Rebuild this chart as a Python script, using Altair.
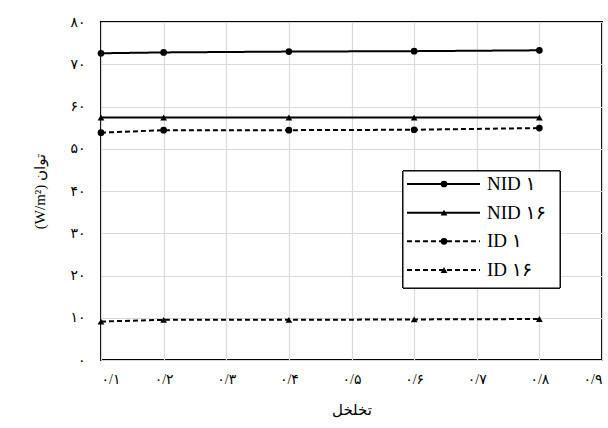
import altair as alt
import pandas as pd

# ---- data ----
porosity = [0.1, 0.2, 0.4, 0.6, 0.8]
series_names = ["NID ۱", "NID ۱۶", "ID ۱", "ID ۱۶"]
nid_1 = [72.6, 72.8, 73.0, 73.1, 73.3]
nid_16 = [57.4, 57.4, 57.4, 57.4, 57.4]
id_1 = [53.8, 54.4, 54.4, 54.5, 54.9]
id_16 = [9.1, 9.5, 9.5, 9.6, 9.7]
x_ticks = [0.1, 0.2, 0.3, 0.4, 0.5, 0.6, 0.7, 0.8, 0.9]
y_ticks = [0, 10, 20, 30, 40, 50, 60, 70, 80]

dash_range = [[1, 0], [1, 0], [5, 3], [5, 3]]
shape_range = ["circle", "triangle-up", "circle", "triangle-up"]

rows = []
for name, vals in zip(series_names, [nid_1, nid_16, id_1, id_16]):
    for x, y in zip(porosity, vals):
        rows.append({"series": name, "x": x, "y": y})
df = pd.DataFrame(rows)

legend_df = pd.DataFrame({"series": series_names, "row": list(range(len(series_names)))})

PD = "۰۱۲۳۴۵۶۷۸۹"


def persian(expr):
    expr = f"replace({expr}, '.', '/')"
    for d in range(10):
        expr = f"replace({expr}, regexp('{d}', 'g'), '{PD[d]}')"
    return expr


FONT = "Liberation Serif, DejaVu Serif, DejaVu Sans"

dash_scale = alt.Scale(domain=series_names, range=dash_range)
shape_scale = alt.Scale(domain=series_names, range=shape_range)

x_enc = alt.X(
    "x:Q",
    scale=alt.Scale(domain=[0.1, 0.9], nice=False, zero=False),
    axis=alt.Axis(
        values=x_ticks,
        labelExpr=persian("format(datum.value, '.1f')"),
        title="تخلخل",
        grid=True,
        domain=False,
        ticks=False,
        labelPadding=12,
        titlePadding=16,
    ),
)
y_enc = alt.Y(
    "y:Q",
    scale=alt.Scale(domain=[0, 80], nice=False),
    axis=alt.Axis(
        values=y_ticks,
        labelExpr=persian("datum.label"),
        title="(W/m²) توان",
        grid=True,
        domain=False,
        ticks=False,
        labelPadding=16,
        titlePadding=22,
    ),
)

lines = alt.Chart(df).mark_line(color="black", strokeWidth=2).encode(
    x=x_enc,
    y=y_enc,
    strokeDash=alt.StrokeDash("series:N", scale=dash_scale, legend=None),
    detail="series:N",
)
points = alt.Chart(df).mark_point(filled=True, color="black", size=45, opacity=1).encode(
    x=alt.X("x:Q"),
    y=alt.Y("y:Q"),
    shape=alt.Shape("series:N", scale=shape_scale, legend=None),
)

main = alt.layer(lines, points)

# ---- hand-built legend box ----
leg_y = alt.Y("row:Q", scale=alt.Scale(domain=[0, 3], range=[162, 248]), axis=None)
box = alt.Chart(legend_df).mark_rect(fill="white", stroke="black", strokeWidth=1).encode(
    x=alt.value(302), x2=alt.value(459), y=alt.value(149), y2=alt.value(266)
)
leg_lines = alt.Chart(legend_df).mark_rule(color="black", strokeWidth=2).encode(
    x=alt.value(306),
    x2=alt.value(379),
    y=leg_y,
    strokeDash=alt.StrokeDash("series:N", scale=dash_scale, legend=None),
)
leg_pts = alt.Chart(legend_df).mark_point(filled=True, color="black", size=45, opacity=1).encode(
    x=alt.value(343),
    y=alt.Y("row:Q"),
    shape=alt.Shape("series:N", scale=shape_scale, legend=None),
)
leg_txt = alt.Chart(legend_df).mark_text(
    align="left", baseline="middle", fontSize=19, font=FONT, color="black"
).encode(x=alt.value(386), y=alt.Y("row:Q"), text="series:N")

legend = alt.layer(box, leg_lines, leg_pts, leg_txt)

chart = (
    alt.layer(main, legend)
    .resolve_scale(y="independent")
    .properties(
        width=501,
        height=338,
        autosize=alt.AutoSizeParams(type="none"),
        padding={"left": 101, "top": 22, "right": 6, "bottom": 68},
        background="white",
    )
    .configure_view(stroke="black", strokeWidth=2)
    .configure_axis(
        gridColor="#d9d9d9",
        gridWidth=1.2,
        labelFont=FONT,
        labelFontSize=14,
        labelColor="black",
        titleFont=FONT,
        titleFontSize=15,
        titleFontWeight="normal",
        titleColor="black",
    )
)

chart.save("out.html", embed_options={"renderer": "svg", "actions": False})
